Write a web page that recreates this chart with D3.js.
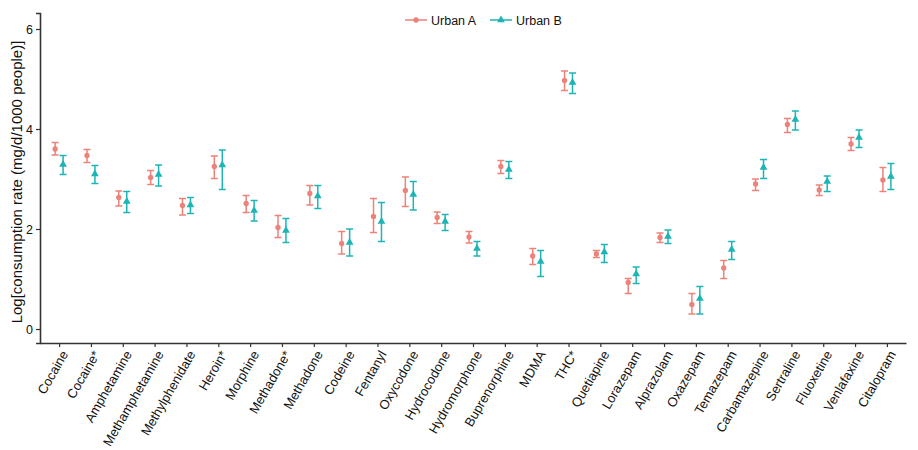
<!DOCTYPE html>
<html>
<head>
<meta charset="utf-8">
<script src="https://cdn.jsdelivr.net/npm/d3@7"></script>
<style>
  body { margin: 0; background: #fff; }
  text { font-family: "Liberation Sans", Arial, sans-serif; }
</style>
</head>
<body>
<div id="chart"></div>
<script>
// data
var drugs = ["Cocaine", "Cocaine*", "Amphetamine", "Methamphetamine", "Methylphenidate",
  "Heroin*", "Morphine", "Methadone*", "Methadone", "Codeine", "Fentanyl", "Oxycodone",
  "Hydrocodone", "Hydromorphone", "Buprenorphine", "MDMA", "THC*", "Quetiapine",
  "Lorazepam", "Alprazolam", "Oxazepam", "Temazepam", "Carbamazepine", "Sertraline",
  "Fluoxetine", "Venlafaxine", "Citalopram"];

var urbanA = [3.60, 3.47, 2.63, 3.03, 2.47, 3.25, 2.51, 2.03, 2.71, 1.71, 2.25, 2.77, 2.23, 1.84,
  3.25, 1.46, 4.97, 1.50, 0.93, 1.83, 0.49, 1.22, 2.90, 4.09, 2.78, 3.70, 2.98];
var urbanALow = [3.48, 3.33, 2.46, 2.89, 2.28, 3.01, 2.33, 1.83, 2.48, 1.50, 1.93, 2.45, 2.11, 1.72,
  3.11, 1.29, 4.77, 1.43, 0.71, 1.73, 0.30, 1.01, 2.77, 3.93, 2.67, 3.57, 2.75];
var urbanAHigh = [3.73, 3.59, 2.76, 3.17, 2.61, 3.46, 2.67, 2.27, 2.87, 1.95, 2.61, 3.04, 2.34, 1.95,
  3.37, 1.61, 5.16, 1.57, 1.01, 1.92, 0.71, 1.37, 3.00, 4.21, 2.88, 3.83, 3.23];

var urbanB = [3.29, 3.10, 2.55, 3.09, 2.48, 3.28, 2.37, 1.97, 2.66, 1.73, 2.15, 2.69, 2.15, 1.61,
  3.19, 1.35, 4.93, 1.54, 1.10, 1.85, 0.61, 1.59, 3.23, 4.19, 2.95, 3.83, 3.05];
var urbanBLow = [3.09, 2.91, 2.33, 2.86, 2.31, 2.79, 2.16, 1.73, 2.41, 1.46, 1.75, 2.38, 1.97, 1.46,
  3.01, 1.05, 4.71, 1.33, 0.91, 1.71, 0.30, 1.39, 3.01, 3.98, 2.75, 3.63, 2.79];
var urbanBHigh = [3.47, 3.27, 2.75, 3.28, 2.63, 3.58, 2.57, 2.21, 2.87, 2.00, 2.53, 2.95, 2.29, 1.75,
  3.35, 1.57, 5.12, 1.69, 1.24, 1.98, 0.85, 1.75, 3.39, 4.36, 3.06, 3.98, 3.31];

var yTicks = [0, 2, 4, 6];
var seriesNames = ["Urban A", "Urban B"];
var colors = ["#EC8279", "#1DB4B6"];

var width = 918, height = 450;
var margin = {top: 13, right: 12, bottom: 107, left: 40};
var w = width - margin.left - margin.right,
    h = height - margin.top - margin.bottom;

var svg = d3.select("#chart").append("svg")
    .attr("width", width)
    .attr("height", height);

var g = svg.append("g")
    .attr("transform", "translate(" + margin.left + "," + margin.top + ")");

var x = d3.scalePoint()
    .domain(drugs)
    .range([0, w])
    .padding(0.6);

var y = d3.scaleLinear()
    .domain([-0.28, 6.32])
    .range([h, 0]);

var dodge = x.step() * 0.125;

// build rows per series
var series = [
  {name: seriesNames[0], color: colors[0], off: -dodge, shape: "circle",
   rows: drugs.map(function(d, i) { return {drug: d, v: urbanA[i], lo: urbanALow[i], hi: urbanAHigh[i]}; })},
  {name: seriesNames[1], color: colors[1], off: dodge, shape: "triangle",
   rows: drugs.map(function(d, i) { return {drug: d, v: urbanB[i], lo: urbanBLow[i], hi: urbanBHigh[i]}; })}
];

// axes
var yAxis = g.append("g")
    .call(d3.axisLeft(y).tickValues(yTicks).tickFormat(d3.format("d")).tickSize(4).tickPadding(3));
yAxis.select(".domain").attr("stroke", "#333").attr("stroke-width", 1.6);
yAxis.selectAll(".tick line").attr("stroke", "#333").attr("stroke-width", 1.2);
yAxis.selectAll("text").attr("font-size", 12.5).attr("fill", "#111");

var xAxis = g.append("g")
    .attr("transform", "translate(0," + h + ")")
    .call(d3.axisBottom(x).tickSize(4).tickSizeOuter(0));
xAxis.select(".domain").attr("stroke", "#333").attr("stroke-width", 1.6);
xAxis.selectAll(".tick line").attr("stroke", "#333").attr("stroke-width", 1.2);
xAxis.selectAll("text")
    .attr("font-size", 13)
    .attr("fill", "#111")
    .attr("dy", null)
    .attr("y", null)
    .attr("transform", "translate(9,11)rotate(-60)")
    .style("text-anchor", "end");

// y title
svg.append("text")
    .attr("transform", "translate(22," + (margin.top + h / 2 + 4) + ")rotate(-90)")
    .attr("text-anchor", "middle")
    .attr("font-size", 15)
    .attr("fill", "#111")
    .text("Log[consumption rate (mg/d/1000 people)]");

// error bars and points
var capW = 3.5;
series.forEach(function(s) {
  var grp = g.append("g");
  var eb = grp.selectAll(".eb").data(s.rows).enter().append("g");
  eb.append("line")
    .attr("x1", function(d) { return x(d.drug) + s.off; })
    .attr("x2", function(d) { return x(d.drug) + s.off; })
    .attr("y1", function(d) { return y(d.lo); })
    .attr("y2", function(d) { return y(d.hi); })
    .attr("stroke", s.color).attr("stroke-width", 1.5);
  eb.append("line")
    .attr("x1", function(d) { return x(d.drug) + s.off - capW; })
    .attr("x2", function(d) { return x(d.drug) + s.off + capW; })
    .attr("y1", function(d) { return y(d.lo); })
    .attr("y2", function(d) { return y(d.lo); })
    .attr("stroke", s.color).attr("stroke-width", 1.5);
  eb.append("line")
    .attr("x1", function(d) { return x(d.drug) + s.off - capW; })
    .attr("x2", function(d) { return x(d.drug) + s.off + capW; })
    .attr("y1", function(d) { return y(d.hi); })
    .attr("y2", function(d) { return y(d.hi); })
    .attr("stroke", s.color).attr("stroke-width", 1.5);

  var sym = d3.symbol().type(s.shape == "circle" ? d3.symbolCircle : d3.symbolTriangle)
    .size(s.shape == "circle" ? 22 : 26);
  grp.selectAll(".pt").data(s.rows).enter().append("path")
    .attr("d", sym)
    .attr("transform", function(d) { return "translate(" + (x(d.drug) + s.off) + "," + y(d.v) + ")"; })
    .attr("fill", s.color);
});

// legend
var legend = svg.append("g").attr("transform", "translate(405,20)");
var lx = [0, 85];
series.forEach(function(s, i) {
  var lg = legend.append("g").attr("transform", "translate(" + lx[i] + ",0)");
  lg.append("line").attr("x1", 0).attr("x2", 22).attr("y1", 0).attr("y2", 0)
    .attr("stroke", s.color).attr("stroke-width", 1.5);
  lg.append("path")
    .attr("d", d3.symbol().type(s.shape == "circle" ? d3.symbolCircle : d3.symbolTriangle)
      .size(s.shape == "circle" ? 22 : 26))
    .attr("transform", "translate(11,0)")
    .attr("fill", s.color);
  lg.append("text").attr("x", 26).attr("y", 4.5)
    .attr("font-size", 12.5).attr("fill", "#111")
    .text(s.name);
});
</script>
</body>
</html>
